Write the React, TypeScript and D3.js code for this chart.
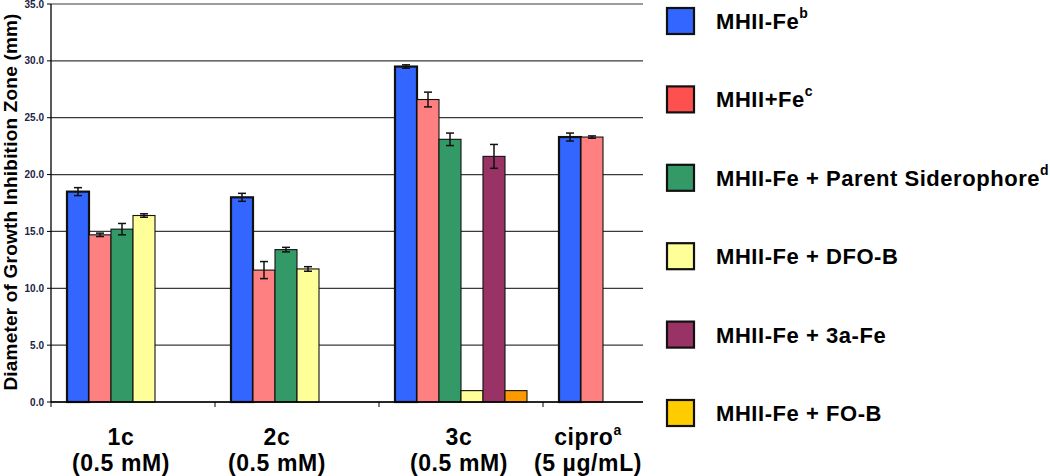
import React from 'react';
import * as d3 from 'd3';

const categories = ['1c', '2c', '3c', 'cipro'];
const categorySub = ['(0.5 mM)', '(0.5 mM)', '(0.5 mM)', '(5 µg/mL)'];
const categorySup = ['', '', '', 'a'];

const seriesNames = ['MHII-Fe', 'MHII+Fe', 'MHII-Fe + Parent Siderophore', 'MHII-Fe + DFO-B', 'MHII-Fe + 3a-Fe', 'MHII-Fe + FO-B'];
const seriesSup = ['b', 'c', 'd', '', '', ''];

const mhiiMinusFe = [18.5, 18.0, 29.5, 23.3];
const mhiiPlusFe = [14.7, 11.6, 26.6, 23.3];
const parentSid = [15.2, 13.4, 23.1, null];
const dfoB = [16.4, 11.7, 1.0, null];
const fe3a = [null, null, 21.6, null];
const foB = [null, null, 1.0, null];

const errMinusFe = [0.35, 0.35, 0.15, 0.35];
const errPlusFe = [0.15, 0.75, 0.65, 0.1];
const errParent = [0.5, 0.2, 0.55, null];
const errDfoB = [0.15, 0.2, null, null];
const err3a = [null, null, 1.05, null];
const errFoB = [null, null, null, null];

const yTicks = [0, 5, 10, 15, 20, 25, 30, 35];

const values = [mhiiMinusFe, mhiiPlusFe, parentSid, dfoB, fe3a, foB];
const errors = [errMinusFe, errPlusFe, errParent, errDfoB, err3a, errFoB];
const barColors = ['#3366FF', '#FF8080', '#339966', '#FFFF99', '#993366', '#FF9900'];
const legendColors = ['#3366FF', '#FF5050', '#339966', '#FFFF99', '#993366', '#FFCC00'];
const labelShift = [-12, -20, -2, -37];

export default function App() {
  const width = 1050;
  const height = 476;
  const left = 51;
  const bandW = 164;

  const x0 = d3.scaleBand<string>().domain(categories).range([left, left + bandW * categories.length]);
  const x1 = d3.scaleBand<string>().domain(seriesNames).range([16, 148]);
  const y = d3.scaleLinear().domain([0, 35]).range([402, 4]);

  const font = 'Arial, "Liberation Sans", sans-serif';

  return (
    <svg width={width} height={height} style={{ position: 'absolute', left: 0, top: 0, background: '#fff' }} fontFamily={font}>
      {/* grid lines */}
      {yTicks.map(t => (
        <line key={t} x1={left} x2={left + bandW * 4} y1={y(t)} y2={y(t)} stroke="#3a3a3a" strokeWidth={1.2} />
      ))}
      {/* bars */}
      {categories.map((c, ci) => (
        <g key={c} transform={`translate(${x0(c)},0)`}>
          {seriesNames.map((s, si) => {
            const v = values[si][ci];
            if (v == null) return null;
            const bx = x1(s)!;
            const e = errors[si][ci];
            const cx = bx + x1.bandwidth() / 2;
            return (
              <g key={s}>
                <rect x={bx} y={y(v)} width={x1.bandwidth()} height={y(0) - y(v)} fill={barColors[si]}
                  stroke="#111" strokeWidth={si === 0 ? 2.2 : 1.1} />
                {e != null && (
                  <g stroke="#111" strokeWidth={1.5}>
                    <line x1={cx} x2={cx} y1={y(v + e)} y2={y(v - e)} />
                    <line x1={cx - 4} x2={cx + 4} y1={y(v + e)} y2={y(v + e)} />
                    <line x1={cx - 4} x2={cx + 4} y1={y(v - e)} y2={y(v - e)} />
                  </g>
                )}
              </g>
            );
          })}
        </g>
      ))}
      {/* axes */}
      <line x1={left} x2={left} y1={y(35)} y2={y(0)} stroke="#000" strokeWidth={1.3} />
      <line x1={left} x2={left + bandW * 4} y1={y(0)} y2={y(0)} stroke="#000" strokeWidth={1.3} />
      {yTicks.map(t => (
        <g key={t}>
          <line x1={left - 4} x2={left} y1={y(t)} y2={y(t)} stroke="#000" />
          <text x={left - 7} y={y(t)} dy="0.35em" textAnchor="end" fontSize={10} fontWeight="bold" fill="#222244">
            {t.toFixed(1)}
          </text>
        </g>
      ))}
      {categories.map(c => (
        <line key={c} x1={x0(c)} x2={x0(c)} y1={y(0)} y2={y(0) + 5} stroke="#000" />
      ))}
      {categories.map((c, ci) => {
        const cx = x0(c)! + bandW / 2 + labelShift[ci];
        return (
          <g key={c} fontSize={23} fontWeight="bold" fill="#000" textAnchor="middle" letterSpacing={0.6}>
            <text x={cx} y={445}>
              {c}
              {categorySup[ci] && <tspan fontSize={14} dy={-10}>{categorySup[ci]}</tspan>}
            </text>
            <text x={cx} y={471}>{categorySub[ci]}</text>
          </g>
        );
      })}
      <text transform="translate(17,202) rotate(-90)" textAnchor="middle" fontSize={19} fontWeight="bold" fill="#000" letterSpacing={0.2}>
        Diameter of Growth Inhibition Zone (mm)
      </text>
      {/* legend */}
      <rect x={643} y={0} width={407} height={415} fill="#fff" />
      {seriesNames.map((s, si) => {
        const ly = 8 + si * 78.4;
        return (
          <g key={s}>
            <rect x={667} y={ly} width={27} height={26} fill={legendColors[si]} stroke="#111" strokeWidth={2.2} />
            <text x={716} y={ly + 21} fontSize={22} fontWeight="bold" fill="#000" letterSpacing={0.55}>
              {s}
              {seriesSup[si] && <tspan fontSize={14} dy={-11}>{seriesSup[si]}</tspan>}
            </text>
          </g>
        );
      })}
    </svg>
  );
}
